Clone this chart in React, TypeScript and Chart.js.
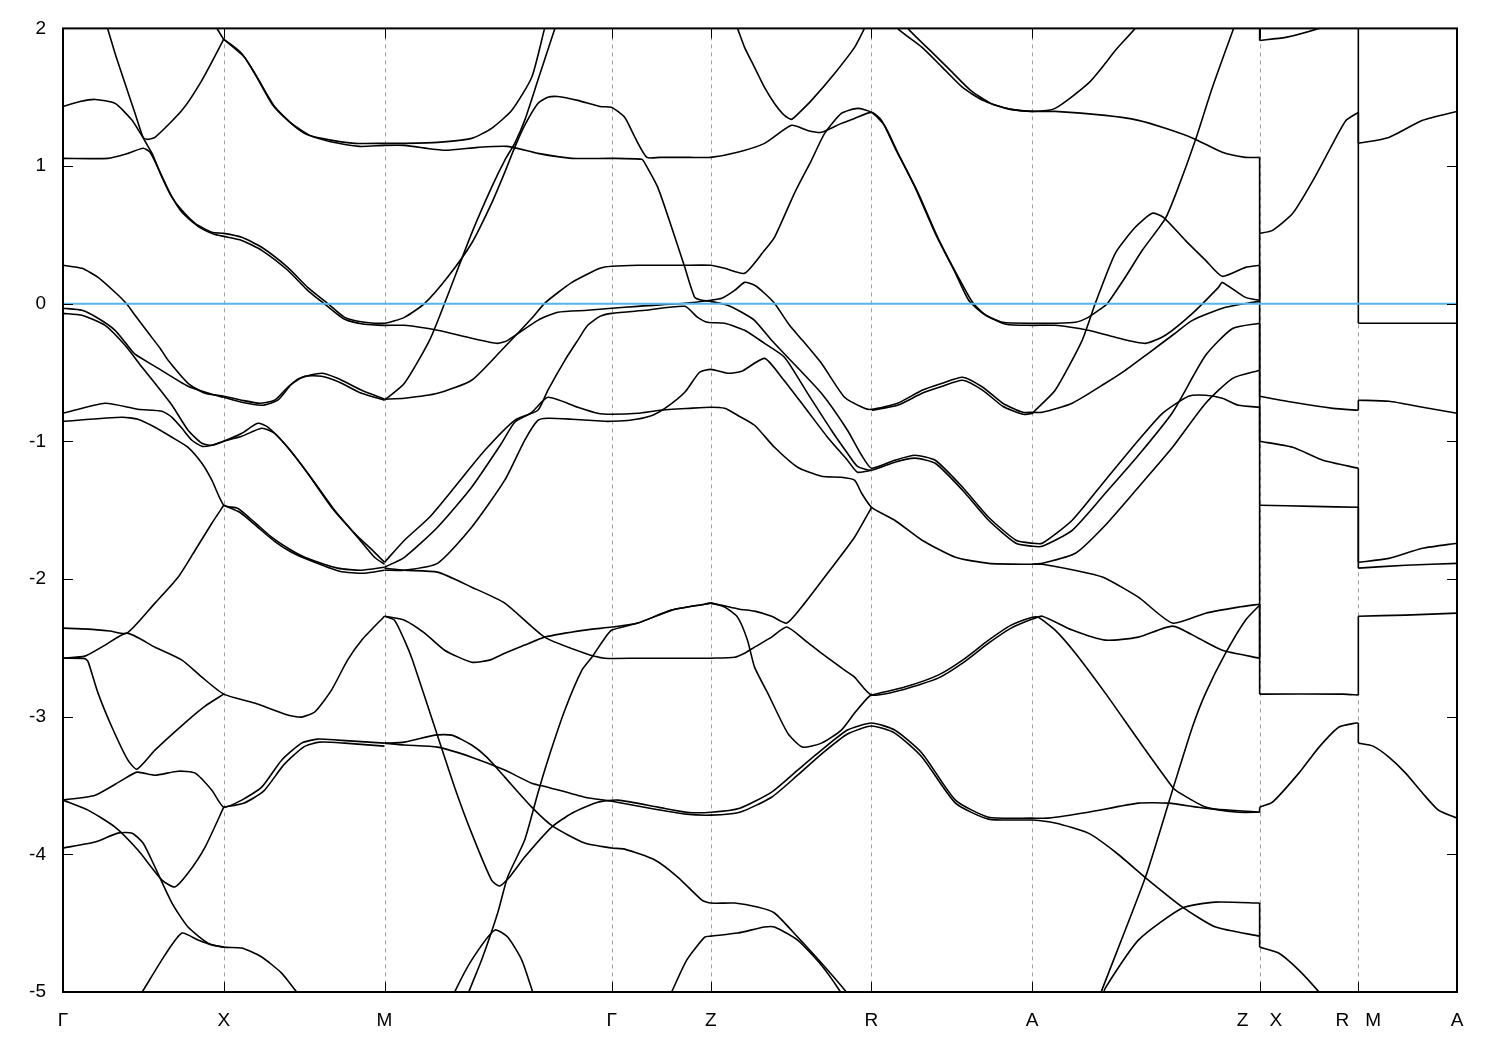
import React, { useEffect, useRef } from "react";
import { Chart, registerables } from "chart.js";

Chart.register(...registerables);

// high-symmetry path (k in 2π/a units, tetragonal cell)
const kTicks = [0, 0.5, 1.0, 1.7071, 2.0146, 2.5146, 3.0146, 3.7217, 4.0288, 4.3359];
const kLabels = ["Γ", "X", "M", "Γ", "Z", "R", "A", "Z    X", "R   M", "A"];
const energyTicks = [2, 1, 0, -1, -2, -3, -4, -5];
const eMin = -5;
const eMax = 2;
const fermiLevel = 0;

type P = [number, number];

const b01: P[] = [[0.131,2.06],[0.162,1.818],[0.193,1.6],[0.224,1.383],[0.249,1.208],[0.277,1.092],[0.308,0.918],[0.339,0.773],[0.37,0.678],[0.411,0.584],[0.463,0.519],[0.5,0.511],[0.556,0.482],[0.618,0.41],[0.699,0.264],[0.761,0.119],[0.823,0.003],[0.876,-0.099],[0.938,-0.135],[1.0,-0.142],[1.062,-0.099],[1.125,0.003],[1.196,0.192],[1.271,0.439],[1.333,0.729],[1.374,0.954],[1.405,1.136],[1.436,1.296],[1.477,1.455],[1.508,1.499],[1.539,1.505],[1.601,1.477],[1.67,1.433],[1.707,1.426],[1.747,1.354],[1.779,1.208],[1.816,1.063],[1.856,1.063],[1.949,1.063],[2.015,1.063],[2.098,1.1],[2.182,1.165],[2.266,1.296],[2.316,1.259],[2.359,1.245],[2.421,1.31],[2.462,1.346],[2.515,1.39],[2.546,1.332],[2.587,1.136],[2.65,0.845],[2.713,0.511],[2.776,0.221],[2.817,0.025],[2.861,-0.07],[2.923,-0.135],[3.015,-0.142],[3.086,-0.142],[3.149,-0.135],[3.189,-0.099],[3.226,-0.04],[3.248,0.0],[3.304,0.192],[3.357,0.388],[3.429,0.62],[3.469,0.845],[3.522,1.187],[3.575,1.571],[3.641,2.0],[3.656,2.09]];
const b02: P[] = [[0,1.056],[0.14,1.056],[0.202,1.092],[0.249,1.129],[0.271,1.1],[0.302,0.954],[0.333,0.802],[0.37,0.664],[0.42,0.562],[0.47,0.504],[0.5,0.489],[0.556,0.46],[0.618,0.388],[0.699,0.243],[0.761,0.097],[0.823,-0.019],[0.876,-0.113],[0.938,-0.149],[1.0,-0.157],[1.062,-0.157],[1.165,-0.193],[1.271,-0.251],[1.352,-0.288],[1.383,-0.266],[1.477,-0.121],[1.539,-0.062],[1.632,-0.048],[1.707,-0.033],[1.788,-0.019],[1.934,0.003],[2.015,0.025],[2.049,0.039],[2.089,0.097],[2.12,0.155],[2.151,0.134],[2.182,0.076],[2.213,0.003],[2.26,-0.157],[2.3,-0.266],[2.359,-0.433],[2.431,-0.68],[2.493,-0.76],[2.515,-0.767],[2.596,-0.723],[2.672,-0.629],[2.735,-0.578],[2.798,-0.534],[2.861,-0.607],[2.923,-0.723],[2.986,-0.789],[3.015,-0.789],[3.046,-0.789],[3.139,-0.723],[3.242,-0.578],[3.304,-0.484],[3.376,-0.36],[3.451,-0.229],[3.513,-0.121],[3.616,-0.026],[3.7,0.01],[3.722,0.017]];
const b03: P[] = [[0,1.433],[0.053,1.469],[0.1,1.484],[0.162,1.455],[0.215,1.332],[0.249,1.208],[0.261,1.194],[0.286,1.208],[0.37,1.405],[0.432,1.623],[0.495,1.898],[0.5,1.92],[0.556,1.818],[0.596,1.673],[0.649,1.455],[0.699,1.332],[0.752,1.237],[0.804,1.201],[0.907,1.165],[1.0,1.165],[1.062,1.165],[1.165,1.172],[1.271,1.201],[1.333,1.274],[1.396,1.405],[1.458,1.645],[1.498,2.0],[1.508,2.07]];
const b04: P[] = [[0.5,1.92],[0.565,1.789],[0.606,1.637],[0.658,1.433],[0.711,1.31],[0.767,1.223],[0.829,1.179],[0.922,1.143],[1.0,1.15],[1.062,1.15],[1.187,1.115],[1.29,1.136],[1.383,1.143],[1.477,1.092],[1.583,1.056],[1.707,1.056],[1.8,1.049],[1.81,1.02],[1.85,0.845],[1.893,0.555],[1.934,0.264],[1.965,0.046],[1.987,0.025],[2.015,0.017],[2.067,-0.011],[2.111,-0.062],[2.151,-0.121],[2.204,-0.266],[2.254,-0.389],[2.359,-0.651],[2.44,-0.919],[2.484,-1.101],[2.515,-1.195],[2.587,-1.137],[2.65,-1.101],[2.713,-1.137],[2.798,-1.333],[2.879,-1.551],[2.964,-1.718],[3.015,-1.74],[3.046,-1.74],[3.139,-1.573],[3.242,-1.282],[3.345,-0.992],[3.42,-0.796],[3.501,-0.672],[3.554,-0.665],[3.606,-0.687],[3.656,-0.738],[3.722,-0.752],[3.722,-1.464],[3.888,-1.472],[4.029,-1.479],[4.029,-1.879],[4.124,-1.85],[4.229,-1.777],[4.336,-1.74]];
const b05: P[] = [[1.0,-1.879],[1.062,-1.718],[1.14,-1.551],[1.218,-1.333],[1.312,-1.065],[1.405,-0.847],[1.477,-0.774],[1.508,-0.629],[1.561,-0.411],[1.601,-0.266],[1.632,-0.157],[1.67,-0.092],[1.707,-0.07],[1.81,-0.048],[1.934,-0.019],[1.974,-0.099],[2.005,-0.135],[2.058,-0.142],[2.12,-0.193],[2.182,-0.288],[2.244,-0.389],[2.316,-0.651],[2.39,-0.919],[2.44,-1.086],[2.471,-1.181],[2.515,-1.21],[2.587,-1.151],[2.65,-1.122],[2.713,-1.159],[2.798,-1.355],[2.879,-1.573],[2.964,-1.74],[3.015,-1.762],[3.046,-1.762],[3.139,-1.646],[3.242,-1.377],[3.345,-1.101],[3.451,-0.79],[3.554,-0.375],[3.638,-0.18],[3.722,-0.142],[3.722,-0.999],[3.825,-1.043],[3.919,-1.137],[4.029,-1.195],[4.029,-1.921],[4.176,-1.9],[4.336,-1.886]];
const b06: P[] = [[1.0,-1.936],[1.062,-1.936],[1.165,-1.886],[1.271,-1.624],[1.374,-1.282],[1.436,-0.992],[1.477,-0.847],[1.508,-0.832],[1.583,-0.839],[1.685,-0.854],[1.707,-0.854],[1.763,-0.847],[1.825,-0.818],[1.872,-0.76],[1.934,-0.643],[1.98,-0.498],[2.015,-0.477],[2.067,-0.505],[2.111,-0.491],[2.182,-0.397],[2.235,-0.534],[2.307,-0.752],[2.378,-0.97],[2.44,-1.137],[2.471,-1.224],[2.515,-1.21]];
const b07: P[] = [[1.0,-1.914],[1.062,-1.842],[1.165,-1.624],[1.271,-1.333],[1.364,-1.014],[1.405,-0.861],[1.458,-0.789],[1.508,-0.68],[1.601,-0.752],[1.663,-0.796],[1.707,-0.803],[1.788,-0.796],[1.856,-0.774],[1.949,-0.76],[2.015,-0.752],[2.058,-0.76],[2.098,-0.81],[2.151,-0.883],[2.213,-1.043],[2.285,-1.188],[2.359,-1.253],[2.421,-1.261],[2.462,-1.282],[2.484,-1.377],[2.515,-1.479],[2.587,-1.573],[2.672,-1.718],[2.776,-1.842],[2.879,-1.886],[3.015,-1.893],[3.046,-1.893],[3.189,-1.958],[3.242,-1.994],[3.345,-2.132],[3.451,-2.32],[3.554,-2.248],[3.656,-2.204],[3.722,-2.183],[3.722,-2.836],[3.982,-2.836],[4.029,-2.843],[4.029,-2.27],[4.176,-2.262],[4.336,-2.248]];
const b08: P[] = [[1.0,-0.694],[1.062,-0.687],[1.165,-0.651],[1.271,-0.556],[1.364,-0.338],[1.458,-0.106],[1.498,0.003],[1.583,0.155],[1.67,0.257],[1.707,0.272],[1.788,0.279],[1.924,0.279],[2.015,0.279],[2.058,0.257],[2.12,0.221],[2.182,0.388],[2.213,0.482],[2.275,0.802],[2.328,1.042],[2.369,1.237],[2.421,1.383],[2.471,1.419],[2.515,1.39],[2.555,1.296],[2.596,1.1],[2.659,0.809],[2.722,0.475],[2.785,0.192],[2.829,0.01],[2.87,-0.084],[2.933,-0.149],[3.015,-0.157],[3.086,-0.157],[3.189,-0.193],[3.273,-0.244],[3.367,-0.288],[3.429,-0.229],[3.513,-0.07],[3.594,0.119],[3.606,0.155],[3.678,0.046],[3.722,0.025],[3.722,0.511]];
const b09: P[] = [[2.515,-0.774],[2.596,-0.738],[2.672,-0.651],[2.735,-0.6],[2.798,-0.556],[2.861,-0.629],[2.923,-0.745],[2.986,-0.803],[3.015,-0.796],[3.024,-0.774],[3.086,-0.629],[3.17,-0.266],[3.211,0.003],[3.273,0.366],[3.335,0.555],[3.388,0.657],[3.423,0.628],[3.491,0.46],[3.554,0.315],[3.606,0.199],[3.678,0.264],[3.722,0.279],[3.722,-0.672],[3.825,-0.716],[3.95,-0.76],[4.029,-0.774],[4.029,-0.701],[4.124,-0.709],[4.229,-0.752],[4.336,-0.796]];
const b10: P[] = [[2.578,2.09],[2.596,2.0],[2.672,1.862],[2.735,1.717],[2.798,1.571],[2.861,1.477],[2.933,1.419],[3.015,1.397],[3.086,1.397],[3.242,1.368],[3.345,1.332],[3.429,1.274],[3.516,1.201],[3.606,1.1],[3.678,1.063],[3.722,1.063],[3.722,0.511],[3.762,0.533],[3.825,0.657],[3.888,0.896],[3.95,1.165],[3.991,1.332],[4.029,1.39],[4.029,1.165],[4.124,1.208],[4.229,1.332],[4.336,1.397]];
const b11: P[] = [[2.609,2.09],[2.628,2.0],[2.697,1.84],[2.76,1.695],[2.823,1.55],[2.886,1.455],[2.949,1.412],[3.015,1.397],[3.086,1.419],[3.189,1.6],[3.242,1.746],[3.273,1.84],[3.335,2.0],[3.357,2.07]];
const b12: P[] = [[2.083,2.09],[2.098,2.0],[2.12,1.862],[2.151,1.717],[2.182,1.571],[2.213,1.455],[2.244,1.368],[2.266,1.339],[2.291,1.39],[2.328,1.477],[2.4,1.673],[2.462,1.862],[2.493,2.0],[2.509,2.07]];
const b13: P[] = [[0.47,2.07],[0.479,2.0],[0.5,1.92]];
const b14: P[] = [[0,0.279],[0.059,0.257],[0.109,0.192],[0.162,0.083],[0.199,-0.004],[0.224,-0.084],[0.264,-0.208],[0.302,-0.324],[0.327,-0.411],[0.389,-0.578],[0.442,-0.651],[0.5,-0.672],[0.556,-0.701],[0.612,-0.723],[0.658,-0.701],[0.699,-0.607],[0.736,-0.542],[0.804,-0.505],[0.854,-0.542],[0.929,-0.629],[1.0,-0.694]];
const b15: P[] = [[0.5,-0.68],[0.556,-0.716],[0.618,-0.738],[0.668,-0.701],[0.711,-0.585],[0.752,-0.527],[0.804,-0.527],[0.86,-0.571],[0.929,-0.651],[1.0,-0.701]];
const b16: P[] = [[0,-0.033],[0.059,-0.048],[0.109,-0.106],[0.162,-0.193],[0.193,-0.28],[0.224,-0.367],[0.286,-0.455],[0.389,-0.6],[0.463,-0.658],[0.5,-0.68]];
const b17: P[] = [[0,-0.07],[0.059,-0.084],[0.131,-0.157],[0.193,-0.302],[0.246,-0.462],[0.286,-0.578],[0.339,-0.738],[0.389,-0.919],[0.432,-1.014],[0.463,-1.028],[0.5,-0.999],[0.556,-0.941],[0.606,-0.869],[0.637,-0.897],[0.699,-1.043],[0.761,-1.232],[0.835,-1.479],[0.907,-1.667],[0.969,-1.806],[1.0,-1.879]];
const b18: P[] = [[0,-0.796],[0.131,-0.723],[0.233,-0.767],[0.308,-0.781],[0.339,-0.825],[0.37,-0.905],[0.401,-0.992],[0.432,-1.036],[0.463,-1.028],[0.5,-0.999],[0.556,-0.963],[0.618,-0.905],[0.658,-0.941],[0.711,-1.079],[0.773,-1.268],[0.845,-1.501],[0.916,-1.696],[0.969,-1.842],[1.0,-1.893]];
const b19: P[] = [[0,-0.854],[0.184,-0.825],[0.233,-0.839],[0.286,-0.897],[0.339,-0.97],[0.389,-1.043],[0.432,-1.159],[0.463,-1.282],[0.5,-1.464],[0.543,-1.486],[0.596,-1.588],[0.649,-1.696],[0.705,-1.784],[0.752,-1.842],[0.854,-1.921],[0.929,-1.936],[1.0,-1.914]];
const b20: P[] = [[0.5,-1.464],[0.55,-1.515],[0.606,-1.624],[0.658,-1.726],[0.711,-1.806],[0.767,-1.864],[0.86,-1.943],[0.938,-1.958],[1.0,-1.936]];
const b21: P[] = [[0,-2.357],[0.078,-2.364],[0.146,-2.378],[0.199,-2.393],[0.286,-2.175],[0.358,-1.987],[0.411,-1.791],[0.463,-1.595],[0.5,-1.464]];
const b22: P[] = [[0,-2.575],[0.068,-2.56],[0.131,-2.48],[0.199,-2.393],[0.286,-2.495],[0.37,-2.589],[0.432,-2.713],[0.5,-2.836],[0.596,-2.901],[0.699,-2.988],[0.742,-3.003],[0.783,-2.966],[0.835,-2.807],[0.885,-2.589],[0.929,-2.444],[1.0,-2.27]];
const b23: P[] = [[0,-2.575],[0.068,-2.578],[0.078,-2.6],[0.109,-2.829],[0.152,-3.075],[0.202,-3.316],[0.23,-3.381],[0.286,-3.243],[0.389,-3.025],[0.442,-2.923],[0.5,-2.836]];
const b24: P[] = [[0,-3.606],[0.1,-3.57],[0.184,-3.461],[0.23,-3.403],[0.286,-3.425],[0.358,-3.396],[0.411,-3.41],[0.463,-3.534],[0.5,-3.657],[0.556,-3.606],[0.618,-3.512],[0.68,-3.316],[0.742,-3.192],[0.792,-3.163],[0.854,-3.17],[1.0,-3.192]];
const b25: P[] = [[0.5,-3.657],[0.562,-3.628],[0.624,-3.541],[0.686,-3.352],[0.748,-3.221],[0.798,-3.185],[0.876,-3.192],[1.0,-3.214]];
const b26: P[] = [[0,-3.606],[0.078,-3.679],[0.162,-3.802],[0.233,-3.969],[0.308,-4.187],[0.348,-4.237],[0.389,-4.136],[0.442,-3.947],[0.5,-3.657]];
const b27: P[] = [[0,-3.954],[0.1,-3.911],[0.171,-3.846],[0.215,-3.846],[0.249,-3.918],[0.286,-4.092],[0.339,-4.354],[0.389,-4.528],[0.451,-4.645],[0.5,-4.674],[0.556,-4.681],[0.618,-4.746],[0.68,-4.863],[0.727,-5.001],[0.752,-5.07]];
const b28: P[] = [[0.227,-5.07],[0.246,-5.001],[0.317,-4.732],[0.37,-4.572],[0.42,-4.623],[0.463,-4.659],[0.5,-4.674]];
const b29: P[] = [[1.0,-2.27],[1.031,-2.299],[1.062,-2.444],[1.087,-2.589],[1.156,-3.075],[1.218,-3.512],[1.271,-3.846],[1.333,-4.187],[1.358,-4.23],[1.389,-4.165],[1.436,-4.02],[1.52,-3.802],[1.583,-3.701],[1.663,-3.621],[1.726,-3.606],[1.85,-3.657],[1.94,-3.694],[2.015,-3.694],[2.105,-3.665],[2.204,-3.548],[2.285,-3.388],[2.359,-3.243],[2.44,-3.097],[2.515,-3.046],[2.587,-3.097],[2.672,-3.265],[2.776,-3.606],[2.879,-3.73],[3.015,-3.737],[3.064,-3.737],[3.189,-3.694],[3.345,-3.628],[3.438,-3.628],[3.554,-3.665],[3.722,-3.694],[3.722,-3.657],[3.762,-3.621],[3.844,-3.41],[3.907,-3.221],[3.969,-3.075],[4.022,-3.046],[4.029,-3.046],[4.029,-3.192],[4.075,-3.214],[4.124,-3.294],[4.176,-3.41],[4.229,-3.556],[4.278,-3.679],[4.336,-3.737]];
const b30: P[] = [[1.0,-3.192],[1.062,-3.206],[1.165,-3.221],[1.271,-3.294],[1.374,-3.388],[1.458,-3.483],[1.508,-3.512],[1.623,-3.585],[1.707,-3.614],[1.825,-3.665],[1.94,-3.708],[2.015,-3.715],[2.105,-3.694],[2.204,-3.585],[2.285,-3.425],[2.359,-3.272],[2.44,-3.126],[2.515,-3.068],[2.587,-3.119],[2.672,-3.294],[2.776,-3.628],[2.879,-3.744],[3.015,-3.751],[3.086,-3.773],[3.189,-3.846],[3.273,-3.983],[3.376,-4.187],[3.482,-4.383],[3.585,-4.528],[3.722,-4.594]];
const b31: P[] = [[1.0,-3.192],[1.062,-3.185],[1.156,-3.134],[1.209,-3.134],[1.271,-3.206],[1.318,-3.294],[1.374,-3.439],[1.458,-3.657],[1.523,-3.795],[1.623,-3.918],[1.707,-3.954],[1.747,-3.962],[1.841,-4.041],[1.912,-4.165],[1.987,-4.332],[2.015,-4.354],[2.089,-4.354],[2.16,-4.383],[2.213,-4.426],[2.285,-4.601],[2.359,-4.79],[2.437,-5.001],[2.459,-5.07]];
const b32: P[] = [[1.881,-5.07],[1.893,-5.001],[1.94,-4.768],[1.996,-4.601],[2.015,-4.594],[2.098,-4.572],[2.182,-4.528],[2.213,-4.528],[2.285,-4.623],[2.359,-4.805],[2.415,-4.987],[2.434,-5.07]];
const b33: P[] = [[1.209,-5.07],[1.218,-5.001],[1.271,-4.768],[1.343,-4.55],[1.383,-4.601],[1.427,-4.768],[1.461,-5.001],[1.47,-5.07]];
const b34: P[] = [[1.255,-5.07],[1.262,-5.001],[1.302,-4.768],[1.352,-4.426],[1.383,-4.165],[1.436,-3.896],[1.477,-3.556],[1.508,-3.316],[1.561,-2.952],[1.614,-2.662],[1.645,-2.568],[1.685,-2.43],[1.707,-2.371],[1.788,-2.32],[1.893,-2.226],[1.996,-2.183],[2.015,-2.175],[2.058,-2.204],[2.098,-2.277],[2.129,-2.444],[2.151,-2.64],[2.192,-2.829],[2.254,-3.119],[2.3,-3.221],[2.359,-3.192],[2.421,-3.097],[2.462,-2.974],[2.502,-2.865],[2.515,-2.843],[2.618,-2.785],[2.722,-2.698],[2.798,-2.589],[2.879,-2.444],[2.949,-2.335],[3.015,-2.277],[3.033,-2.277],[3.086,-2.371],[3.149,-2.539],[3.242,-2.829],[3.345,-3.17],[3.451,-3.512],[3.469,-3.548],[3.554,-3.657],[3.656,-3.694],[3.722,-3.694]];
const b35: P[] = [[1.0,-1.921],[1.062,-1.936],[1.165,-1.95],[1.271,-2.059],[1.374,-2.175],[1.498,-2.422],[1.623,-2.539],[1.685,-2.575],[1.788,-2.575],[1.996,-2.575],[2.015,-2.575],[2.089,-2.568],[2.12,-2.539],[2.151,-2.495],[2.204,-2.422],[2.251,-2.349],[2.307,-2.444],[2.359,-2.539],[2.431,-2.662],[2.462,-2.713],[2.515,-2.843],[2.618,-2.8],[2.722,-2.72],[2.798,-2.611],[2.879,-2.466],[2.949,-2.357],[3.015,-2.291],[3.046,-2.27],[3.139,-2.371],[3.242,-2.444],[3.345,-2.422],[3.451,-2.342],[3.532,-2.43],[3.606,-2.517],[3.722,-2.575],[3.722,-1.464]];
const b36: P[] = [[1.0,-2.27],[1.062,-2.299],[1.125,-2.393],[1.187,-2.517],[1.271,-2.604],[1.327,-2.589],[1.374,-2.539],[1.436,-2.48],[1.498,-2.422],[1.623,-2.371],[1.707,-2.349],[1.788,-2.32],[1.893,-2.226],[1.996,-2.183],[2.015,-2.175],[2.105,-2.219],[2.151,-2.233],[2.204,-2.27],[2.251,-2.32],[2.307,-2.175],[2.378,-1.958],[2.462,-1.696],[2.515,-1.479]];
const b37: P[] = [[1.0,-0.701],[1.062,-0.578],[1.14,-0.266],[1.187,0.003],[1.271,0.511],[1.333,0.845],[1.374,1.042],[1.405,1.165],[1.436,1.332],[1.477,1.623],[1.53,2.0],[1.539,2.07]];
const b38: P[] = [[3.22,-5.07],[3.229,-5.001],[3.367,-4.165],[3.451,-3.534],[3.513,-3.075],[3.554,-2.829],[3.616,-2.539],[3.678,-2.299],[3.722,-2.19]];
const b39: P[] = [[3.229,-5.07],[3.242,-4.972],[3.345,-4.623],[3.482,-4.39],[3.585,-4.347],[3.722,-4.354],[3.722,-4.674],[3.781,-4.717],[3.844,-4.841],[3.907,-5.001],[3.929,-5.07]];
const b40: P[] = [[3.722,2.3],[3.722,1.913],[3.803,1.935],[3.907,2.0],[3.95,2.04]];
const b41: P[] = [[4.029,2.3],[4.029,-0.142],[4.336,-0.142]];
const b42: P[] = [[3.015,-1.893],[3.046,-1.886],[3.149,-1.813],[3.242,-1.609],[3.345,-1.333],[3.451,-1.043],[3.554,-0.723],[3.638,-0.542],[3.722,-0.484]];

const bands: P[][] = [b01,b02,b03,b04,b05,b06,b07,b08,b09,b10,b11,b12,b13,b14,b15,b16,b17,b18,b19,b20,b21,b22,b23,b24,b25,b26,b27,b28,b29,b30,b31,b32,b33,b34,b35,b36,b37,b38,b39,b40,b41,b42];

// split a band where it jumps at a path discontinuity (same k twice),
// so the smooth curve pieces and the straight connector stay separate
function splitBand(b: P[]): P[][] {
  const pieces: P[][] = [];
  let cur: P[] = [b[0]];
  for (let i = 1; i < b.length; i++) {
    if (b[i][0] === b[i - 1][0]) {
      pieces.push(cur);
      pieces.push([b[i - 1], b[i]]);
      cur = [b[i]];
    } else {
      cur.push(b[i]);
    }
  }
  pieces.push(cur);
  return pieces.filter((p) => p.length > 1);
}

const framePlugin = {
  id: "frame",
  beforeDatasetsDraw(chart: any) {
    const { ctx, chartArea, scales } = chart;
    ctx.save();
    ctx.strokeStyle = "#a0a0a0";
    ctx.lineWidth = 1;
    ctx.setLineDash([4, 4]);
    kTicks.slice(1, -1).forEach((k) => {
      const px = Math.round(scales.x.getPixelForValue(k)) + 0.5;
      ctx.beginPath();
      ctx.moveTo(px, chartArea.top);
      ctx.lineTo(px, chartArea.bottom);
      ctx.stroke();
    });
    ctx.restore();
  },
  afterDraw(chart: any) {
    const { ctx, chartArea, scales } = chart;
    const { left, right, top, bottom } = chartArea;
    ctx.save();
    ctx.strokeStyle = "#000";
    ctx.lineWidth = 1;
    ctx.beginPath();
    energyTicks.forEach((e) => {
      const py = Math.round(scales.y.getPixelForValue(e)) + 0.5;
      ctx.moveTo(left, py);
      ctx.lineTo(left + 10, py);
      ctx.moveTo(right, py);
      ctx.lineTo(right - 10, py);
    });
    kTicks.forEach((k) => {
      const px = Math.round(scales.x.getPixelForValue(k)) + 0.5;
      ctx.moveTo(px, top);
      ctx.lineTo(px, top + 10);
      ctx.moveTo(px, bottom);
      ctx.lineTo(px, bottom - 10);
    });
    ctx.stroke();
    ctx.lineWidth = 2;
    ctx.strokeRect(left, top, right - left, bottom - top);
    ctx.restore();
  },
};

export default function App() {
  const ref = useRef<HTMLCanvasElement | null>(null);
  useEffect(() => {
    document.body.style.margin = "0";
    const canvas = ref.current;
    if (!canvas) return;
    const bandSets = bands.flatMap((b) =>
      splitBand(b).map((piece) => ({
        data: piece.map(([x, y]) => ({ x, y })),
        borderColor: "#000",
        borderWidth: 1.6,
        pointRadius: 0,
        tension: piece.length > 2 ? 0.2 : 0,
        fill: false,
      }))
    );
    const datasets: any[] = [
      {
        data: [
          { x: kTicks[0], y: fermiLevel },
          { x: kTicks[kTicks.length - 1], y: fermiLevel },
        ],
        borderColor: "rgb(86,180,233)",
        borderWidth: 2,
        pointRadius: 0,
        tension: 0,
      },
      ...bandSets,
    ];
    const chart = new Chart(canvas, {
      type: "line",
      data: { datasets },
      options: {
        animation: false,
        responsive: false,
        events: [],
        layout: { padding: { top: 28, right: 43, left: 0, bottom: 0 } },
        plugins: { legend: { display: false }, tooltip: { enabled: false } },
        scales: {
          x: {
            type: "linear",
            min: kTicks[0],
            max: kTicks[kTicks.length - 1],
            afterBuildTicks: (s: any) => {
              s.ticks = kTicks.map((v) => ({ value: v }));
            },
            afterFit: (s: any) => {
              s.height = 58;
            },
            grid: { display: false, drawTicks: false },
            border: { display: false },
            ticks: {
              autoSkip: false,
              maxRotation: 0,
              minRotation: 0,
              padding: 17,
              color: "#000",
              font: { family: "Liberation Sans", size: 19 },
              callback: (_v: any, i: number) => kLabels[i],
            },
          },
          y: {
            type: "linear",
            min: eMin,
            max: eMax,
            afterBuildTicks: (s: any) => {
              s.ticks = energyTicks.map((v) => ({ value: v }));
            },
            afterFit: (s: any) => {
              s.width = 63;
            },
            grid: { display: false, drawTicks: false },
            border: { display: false },
            ticks: {
              padding: 17,
              color: "#000",
              font: { family: "Liberation Sans", size: 19 },
              callback: (v: any) => String(v),
            },
          },
        },
      } as any,
      plugins: [framePlugin],
    });
    return () => chart.destroy();
  }, []);
  return <canvas ref={ref} width={1500} height={1050} style={{ display: "block" }} />;
}
